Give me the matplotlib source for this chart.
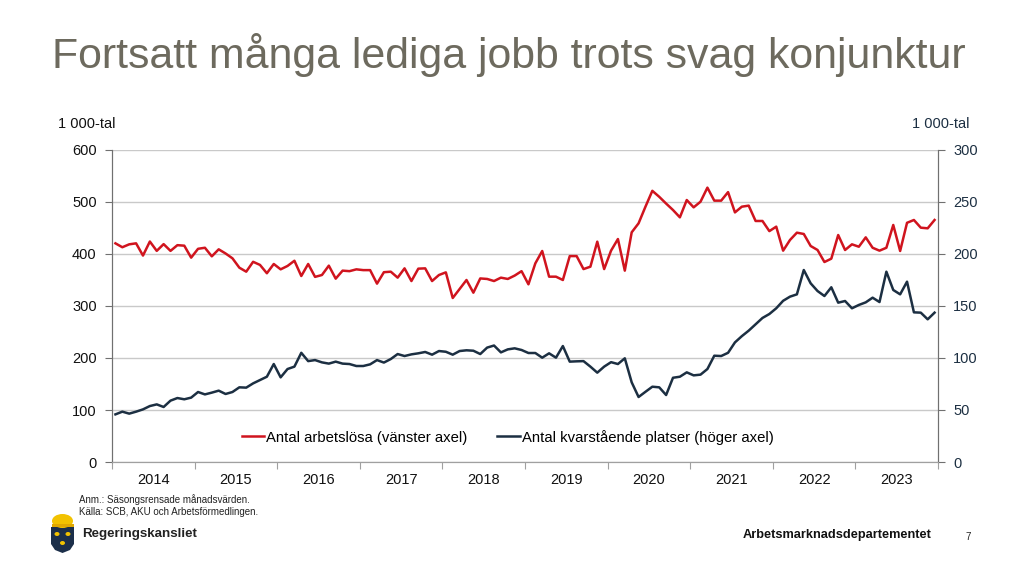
import numpy as np
import matplotlib
matplotlib.use("Agg")
import matplotlib.pyplot as plt
from matplotlib.patches import Polygon, Ellipse, Rectangle

plt.rcParams['font.family'] = ['Liberation Sans', 'DejaVu Sans']

years = ['2014', '2015', '2016', '2017', '2018', '2019', '2020', '2021', '2022', '2023']

# Antal arbetslösa (1 000-tal), monthly Jan 2014 - Dec 2023, left axis
unemployed = [
    420.5, 413, 418.6, 420.5, 397, 424, 406, 419, 406, 417, 416, 393,
    410, 412, 395.5, 409, 401, 391.7, 373.7, 366, 385, 379, 363, 380.8,
    370.5, 377, 387, 357.7, 380.8, 356, 359.6, 377.6, 352.6, 368, 367, 370.5,
    369, 369, 343, 365, 366, 354.5, 372.4, 348, 371.8, 372.4, 348, 359.6,
    364.7, 315.4, 332.7, 350, 325.6, 353, 352, 348, 354.5, 352, 358.5, 367,
    341.7, 382, 405.8, 356.4, 356.4, 350, 396, 396, 371, 375.6, 423.7, 371,
    406.4, 428.8, 368, 441.7, 459, 491, 521.5, 510, 497, 484.6, 470.5, 503.8,
    489.7, 500.6, 527.6, 502.6, 502.6, 519, 480, 491, 493, 463.5, 463.5, 444,
    452.6, 406.4, 427, 441, 438.5, 415.4, 407.7, 384.6, 391, 436.5, 407.7, 418.6,
    414, 432, 412, 406.4, 412, 455.8, 405.8, 460, 465.4, 450.6, 449.4, 465.4,
]

# Antal kvarstående platser (1 000-tal), right axis
vacancies = [
    45.8, 48.4, 46.5, 48.4, 50.6, 53.8, 55.4, 52.9, 59, 61.5, 60.3, 61.9,
    67.3, 65, 66.7, 68.6, 65.4, 67.3, 71.8, 71.5, 75.6, 78.8, 82, 94.2,
    81.4, 89.4, 91.7, 105, 97, 98, 95.8, 94.6, 96.5, 94.6, 94.2, 92.3,
    92.3, 93.9, 98, 95.6, 99, 103.8, 101.9, 103.5, 104.5, 105.8, 103.2, 106.7,
    106, 103.2, 106.7, 107.4, 107, 103.8, 110, 112, 105.4, 108.3, 109.3, 107.7,
    104.8, 104.8, 100.3, 104.5, 100.3, 111.5, 96.5, 96.8, 97, 91.7, 85.9, 91.7,
    96, 94.2, 99.7, 76.6, 62.5, 67.5, 72.4, 71.8, 64.4, 81, 82, 86.2,
    83.3, 84, 89.4, 102.2, 101.9, 105, 115, 121, 126.3, 132.4, 138.5, 142.3,
    147.8, 155, 159, 161.2, 184.6, 171.8, 164.4, 159.6, 168, 153.2, 154.8, 147.8,
    151, 153.5, 158, 153.8, 183, 165.4, 161.2, 173.4, 143.9, 143.6, 137.2, 143.6,
]

left_ticks = [0, 100, 200, 300, 400, 500, 600]
right_ticks = [0, 50, 100, 150, 200, 250, 300]

RED = '#d0141e'
NAVY = '#1c2f42'
GRID = '#c9c9c9'

fig = plt.figure(figsize=(10.24, 5.70), dpi=100)
fig.patch.set_facecolor('white')

ax = fig.add_axes([112/1024, 1-462/570, 826/1024, 312/570])
ax2 = ax.twinx()

x = np.arange(len(unemployed)) + 0.5
l1, = ax.plot(x, unemployed, color=RED, lw=1.8, label='Antal arbetslösa (vänster axel)', zorder=3)
l2, = ax2.plot(x, vacancies, color=NAVY, lw=1.8, label='Antal kvarstående platser (höger axel)', zorder=3)

ax.set_xlim(0, 120)
ax.set_ylim(0, 600)
ax2.set_ylim(0, 300)
ax.set_yticks(left_ticks)
ax2.set_yticks(right_ticks)
ax.yaxis.grid(True, color=GRID, lw=1)
ax.set_axisbelow(True)

ax.set_xticks(np.arange(0, 121, 12))
ax.set_xticklabels([])
ax.set_xticks(np.arange(6, 120, 12), minor=True)
ax.set_xticklabels(years, minor=True)
ax.tick_params(axis='x', which='major', length=5, color='#a0a0a0', direction='out')
ax.tick_params(axis='x', which='minor', length=0, pad=8, labelsize=10.5, labelcolor='#111111')
ax.tick_params(axis='y', length=5, color='#707070', labelsize=10.5, labelcolor='#111111', pad=6)
ax2.tick_params(axis='y', length=5, color='#707070', labelsize=10.5, labelcolor=NAVY, pad=6)

for a in (ax, ax2):
    a.spines['top'].set_visible(False)
    a.spines['left'].set_color('#707070')
    a.spines['right'].set_color('#707070')
    a.spines['bottom'].set_color('#a0a0a0')

ax.legend(handles=[l1, l2], loc='center', bbox_to_anchor=(0.479, 0.08), ncol=2,
          frameon=False, fontsize=10.7, handlelength=1.5, handletextpad=0.15,
          columnspacing=2.0)

# Texts
fig.text(52/1024, 1-55/570, 'Fortsatt många lediga jobb trots svag konjunktur',
         fontsize=30.9, color='#6d6a5e', va='center', ha='left')
fig.text(58/1024, 1-124/570, '1 000-tal', fontsize=10.5, color='#111111', va='center', ha='left')
fig.text(970/1024, 1-124/570, '1 000-tal', fontsize=10.5, color=NAVY, va='center', ha='right')
fig.text(79/1024, 1-500/570, 'Anm.: Säsongsrensade månadsvärden.', fontsize=7, color='#222222', va='center')
fig.text(79/1024, 1-512/570, 'Källa: SCB, AKU och Arbetsförmedlingen.', fontsize=7, color='#222222', va='center')
fig.text(82/1024, 1-534/570, 'Regeringskansliet', fontsize=9.6, fontweight='bold', color='#222222', va='center')
fig.text(932/1024, 1-535/570, 'Arbetsmarknadsdepartementet', fontsize=9.2, fontweight='bold', color='#111111', va='center', ha='right')
fig.text(968/1024, 1-537/570, '7', fontsize=7, color='#222222', va='center', ha='center')

# Simple logo: crown and shield
def fx(px):
    return px/1024
def fy(py):
    return 1-py/570

shield = Polygon([(fx(51), fy(527)), (fx(74), fy(527)), (fx(74), fy(544)),
                  (fx(70), fy(550)), (fx(62.5), fy(553)), (fx(55), fy(550)),
                  (fx(51), fy(544))], closed=True, transform=fig.transFigure,
                 facecolor='#1c2f4a', edgecolor='none')
fig.patches.append(shield)
crown = Ellipse((fx(62.5), fy(521)), fx(21), 14/570, transform=fig.transFigure,
                facecolor='#f2c200', edgecolor='none')
fig.patches.append(crown)
band = Rectangle((fx(51.5), fy(527)), fx(22), 3/570, transform=fig.transFigure,
                 facecolor='#e0a800', edgecolor='none')
fig.patches.append(band)
for cx, cy in [(57, 534), (68, 534), (62.5, 543)]:
    fig.patches.append(Ellipse((fx(cx), fy(cy)), fx(5), 4/570, transform=fig.transFigure,
                               facecolor='#f2c200', edgecolor='none'))

fig.savefig('out.png', dpi=100, facecolor='white')
